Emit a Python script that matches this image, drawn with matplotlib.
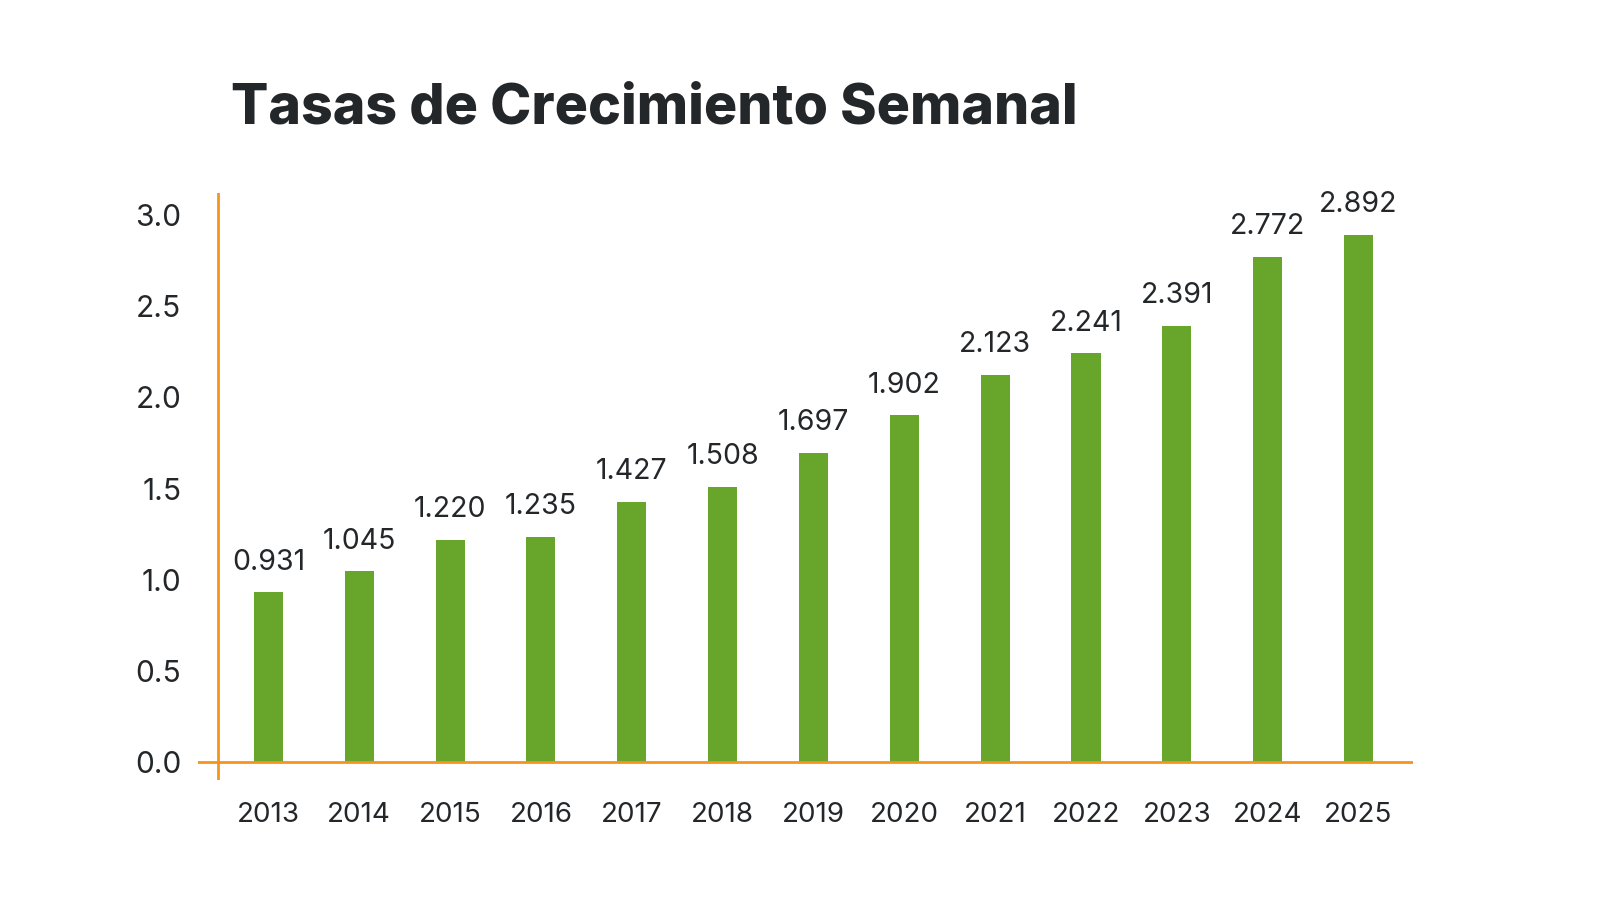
import matplotlib.pyplot as plt
import numpy as np

# datos
years = ['2013', '2014', '2015', '2016', '2017', '2018', '2019',
         '2020', '2021', '2022', '2023', '2024', '2025']
tasas = [0.931, 1.045, 1.220, 1.235, 1.427, 1.508, 1.697,
         1.902, 2.123, 2.241, 2.391, 2.772, 2.892]
yticks = [0.0, 0.5, 1.0, 1.5, 2.0, 2.5, 3.0]

verde = '#67a52b'
naranja = '#f7941d'
texto = '#24272a'

plt.rcParams['font.family'] = ['Inter', 'DejaVu Sans']

fig = plt.figure(figsize=(16, 9), dpi=100)
ax = fig.add_axes([198/1600, 1 - 780/900, (1413-198)/1600, (780-193)/900])

x = np.arange(len(years))
ax.bar(x, tasas, width=0.32, color=verde, zorder=2)

for xi, v in zip(x, tasas):
    ax.annotate('%.3f' % v, (xi, v), xytext=(0, 12), textcoords='offset points',
                ha='center', va='bottom', fontsize=20.5, color=texto)

ax.set_xlim(-0.775, 12.6)
ax.set_ylim(-0.0987, 3.121)

# ejes naranjas
ax.axhline(0, color=naranja, lw=2, zorder=3)
ax.axvline(-0.56, color=naranja, lw=2, zorder=3)
for s in ax.spines.values():
    s.set_visible(False)

ax.set_xticks(x)
ax.set_xticklabels(years)
ax.set_yticks(yticks)
ax.set_yticklabels(['%.1f' % t for t in yticks])
ax.tick_params(axis='x', length=0, pad=16, labelsize=20, labelcolor=texto)
ax.tick_params(axis='y', length=0, pad=12, labelsize=21.5, labelcolor=texto)

fig.text(231/1600, 1 - 124/900, 'Tasas de Crecimiento Semanal', fontsize=39.9,
         fontweight='heavy', color=texto, ha='left', va='baseline')

fig.savefig('out.png', dpi=100, facecolor='white')
